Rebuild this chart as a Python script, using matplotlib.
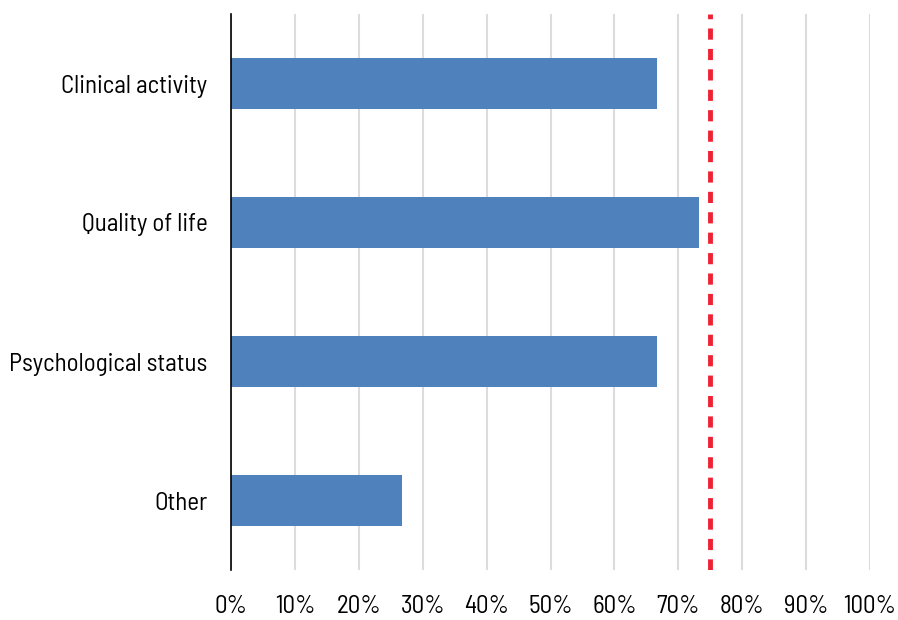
import matplotlib
matplotlib.use("Agg")
import matplotlib.pyplot as plt
from matplotlib.ticker import MultipleLocator, FuncFormatter

# data (share of studies, %)
categories = ["Clinical activity", "Quality of life", "Psychological status", "Other"]
values = [66.7, 73.3, 66.7, 26.7]
threshold = 75

plt.rcParams['font.family'] = ['Barlow Semi Condensed', 'DejaVu Sans']

fig = plt.figure(figsize=(8.98, 6.2), dpi=100)
ax = fig.add_axes([231 / 898, 1 - 570 / 620, (870 - 231) / 898, (570 - 14) / 620])

y = list(range(len(categories)))
ax.barh(y, values, height=0.36, color="#4f81bd", zorder=3)
ax.axvline(threshold, color="#ee2233", lw=3.5, ls=(0, (2.3, 1.9)), zorder=4)

ax.set_xlim(0, 100)
ax.set_ylim(len(categories) - 0.5, -0.5)
ax.set_yticks(y)
ax.set_yticklabels(categories)
ax.xaxis.set_major_locator(MultipleLocator(10))
ax.xaxis.set_major_formatter(FuncFormatter(lambda v, p: f"{int(v)}%"))
ax.grid(axis="x", color="#dcdcdc", lw=1.5, zorder=0)

for s in ["top", "right", "bottom"]:
    ax.spines[s].set_visible(False)
ax.spines["left"].set_linewidth(1.2)
ax.spines["left"].set_zorder(5)
ax.tick_params(axis="both", length=0, labelsize=18, colors="black")
ax.tick_params(axis="x", pad=18)
ax.tick_params(axis="y", pad=17)

fig.savefig("out.png", dpi=100)
